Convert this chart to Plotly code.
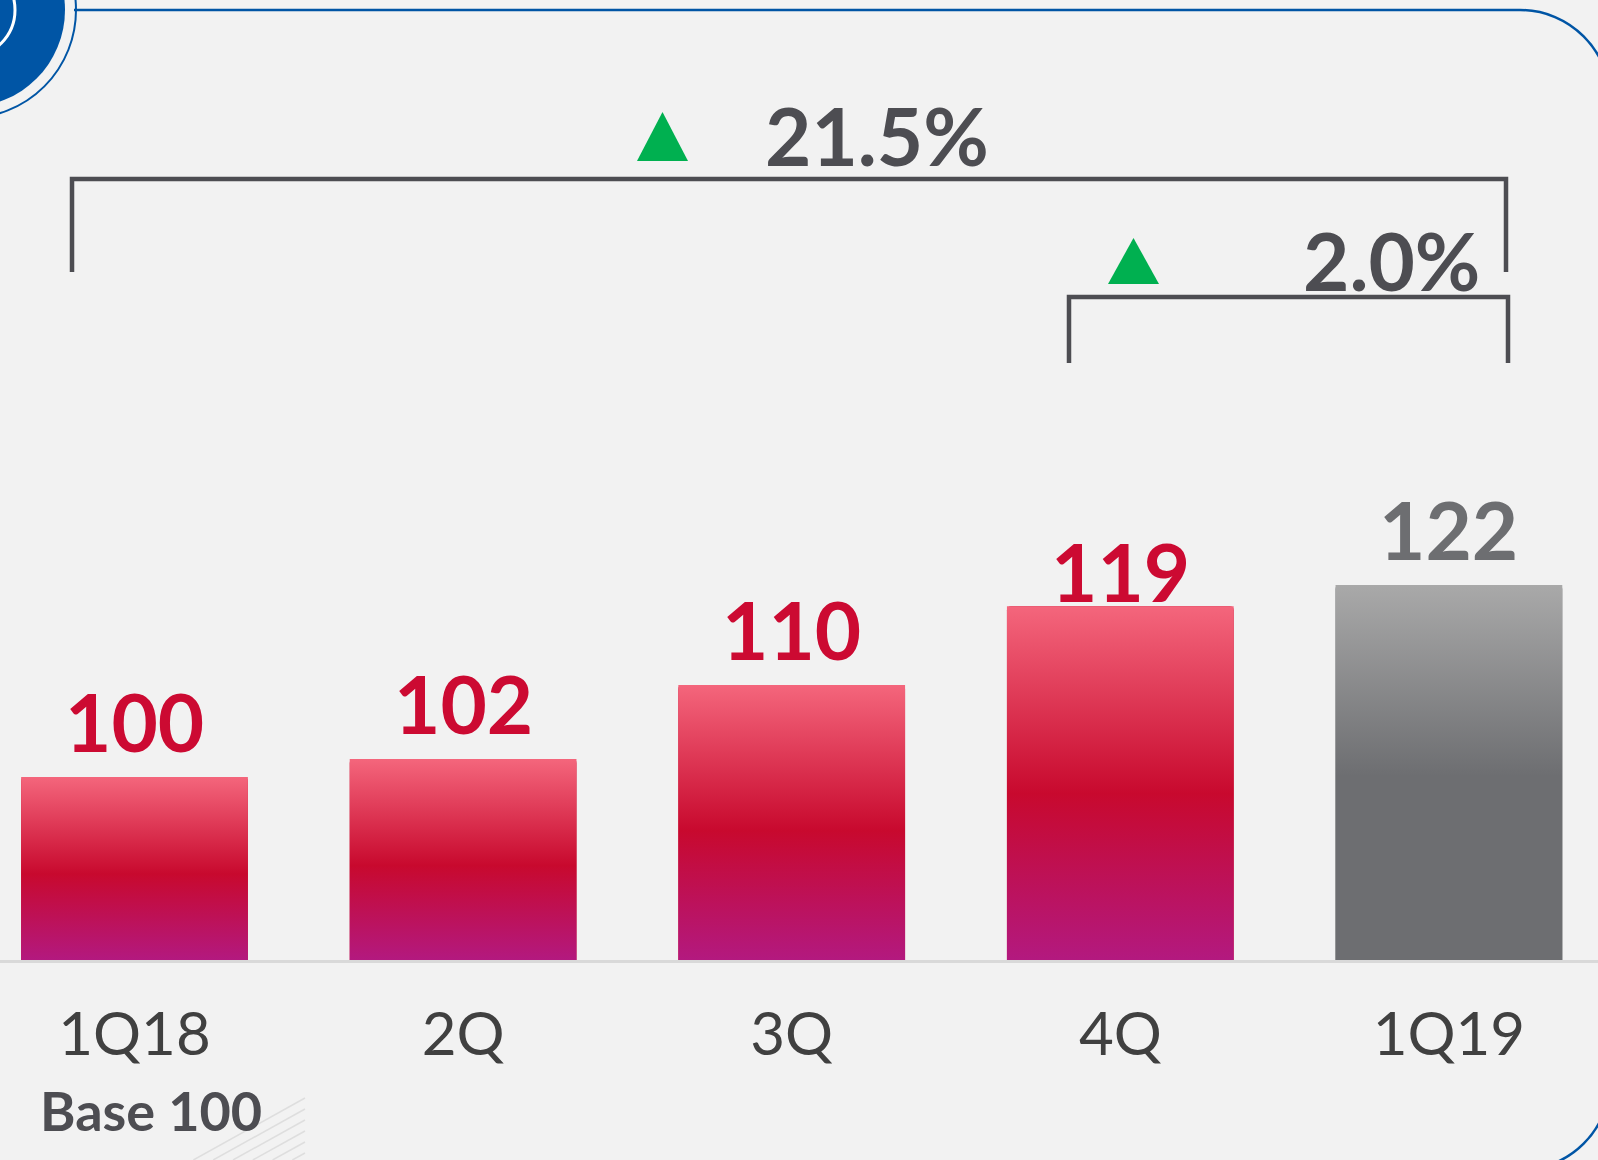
import plotly.graph_objects as go

# ---- data ----
categories = ["1Q18", "2Q", "3Q", "4Q", "1Q19"]
index_values = [100, 102, 110.3, 119.1, 121.5]
value_labels = ["100", "102", "110", "119", "122"]
growth_total = "21.5%"
growth_quarter = "2.0%"
footnote = "Base 100"

# ---- layout constants ----
W, H = 1598, 1160
PLOT_BOTTOM = 960
Y0, Y1 = 79.5, 187.0
X0, X1 = -0.4093, 4.4537
BAR_W = 0.69

BG = "#f2f2f2"
DARK = "#4d4d52"
RED = "#cc0a32"
GREY_LABEL = "#6d6e71"
BLUE = "#0055a5"
GREEN = "#00b050"


def P(x, y):
    """pixel -> paper coordinates"""
    return x / W, (PLOT_BOTTOM - y) / PLOT_BOTTOM


fig = go.Figure()

n = len(categories)
xs = list(range(n))
bar_colors = ["#c8092e"] * (n - 1) + ["#6d6e71"]
fig.add_trace(go.Bar(
    x=xs, y=index_values, width=BAR_W,
    marker=dict(color=bar_colors, line=dict(width=0), cornerradius=4),
    hoverinfo="skip", showlegend=False,
))

red_scale = [[0, "#b3197f"], [0.47, "#c8092e"], [1, "#f4667c"]]
grey_scale = [[0, "#6d6e71"], [0.49, "#6d6e71"], [1, "#a9a9a9"]]
for i, v in enumerate(index_values):
    scale = grey_scale if i == n - 1 else red_scale
    fig.add_trace(go.Scatter(
        x=[i - BAR_W / 2, i + BAR_W / 2, i + BAR_W / 2, i - BAR_W / 2, i - BAR_W / 2],
        y=[Y0, Y0, v, v, Y0],
        mode="lines", line=dict(width=0), fill="toself",
        fillgradient=dict(type="vertical", colorscale=scale, start=Y0, stop=v),
        hoverinfo="skip", showlegend=False,
    ))

annotations = []
label_shift = [6, 6, 6, -15, 6]
for i, (v, t) in enumerate(zip(index_values, value_labels)):
    annotations.append(dict(
        x=i, y=v, xref="x", yref="y", text=f"<b>{t}</b>", showarrow=False,
        xanchor="center", yanchor="bottom", yshift=label_shift[i],
        font=dict(family="Lato", size=80, color=GREY_LABEL if i == n - 1 else RED),
    ))

# growth texts
gx, gy = P(877, 135)
annotations.append(dict(x=gx, y=gy, xref="paper", yref="paper", text=f"<b>{growth_total}</b>",
                        showarrow=False, xanchor="center", yanchor="middle",
                        font=dict(family="Lato", size=80, color=DARK)))
gx, gy = P(1391, 260)
annotations.append(dict(x=gx, y=gy, xref="paper", yref="paper", text=f"<b>{growth_quarter}</b>",
                        showarrow=False, xanchor="center", yanchor="middle",
                        font=dict(family="Lato", size=80, color=DARK)))
bx, by = P(38, 1110)
annotations.append(dict(x=bx, y=by, xref="paper", yref="paper", text=f"<b>{footnote}</b>",
                        showarrow=False, xanchor="left", yanchor="middle",
                        font=dict(family="Lato", size=54, color=DARK)))

shapes = []


def line_px(xa, ya, xb, yb, color, width):
    a = P(xa, ya)
    b = P(xb, yb)
    shapes.append(dict(type="line", xref="paper", yref="paper", x0=a[0], y0=a[1], x1=b[0], y1=b[1],
                       line=dict(color=color, width=width)))


def path_px(points, close=True, **kw):
    pts = [P(x, y) for x, y in points]
    d = "M " + " L ".join(f"{x:.5f},{y:.5f}" for x, y in pts) + (" Z" if close else "")
    shapes.append(dict(type="path", xref="paper", yref="paper", path=d, **kw))


# brackets
path_px([(72, 272), (72, 179), (1506, 179), (1506, 272)], close=False,
        line=dict(color=DARK, width=4.5))
path_px([(1069, 363), (1069, 297), (1508, 297), (1508, 363)], close=False,
        line=dict(color=DARK, width=4.5))

# green triangles
path_px([(637, 161), (662.5, 112), (688, 161)], fillcolor=GREEN, line=dict(width=0))
path_px([(1108, 284), (1133.5, 238), (1159, 284)], fillcolor=GREEN, line=dict(width=0))


# decorative blue circle top-left
def circle_px(cx, cy, r, **kw):
    a = P(cx - r, cy + r)
    b = P(cx + r, cy - r)
    shapes.append(dict(type="circle", xref="paper", yref="paper", x0=a[0], y0=a[1], x1=b[0], y1=b[1], **kw))


circle_px(-32, 10, 108, line=dict(color=BLUE, width=2), fillcolor="rgba(0,0,0,0)")
circle_px(-32, 10, 97, line=dict(width=0), fillcolor=BLUE)
circle_px(-32, 10, 47, line=dict(color="white", width=3), fillcolor="rgba(0,0,0,0)")

# rounded frame top/right
k = 0.5523
R = 90


def fmt(x, y):
    a = P(x, y)
    return f"{a[0]:.5f},{a[1]:.5f}"


frame = (f"M {fmt(74, 10)} L {fmt(1520, 10)} "
         f"C {fmt(1520 + R * k, 10)} {fmt(1610, 100 - R * k)} {fmt(1610, 100)} "
         f"L {fmt(1610, 1080)} "
         f"C {fmt(1610, 1080 + R * k)} {fmt(1520 + R * k, 1170)} {fmt(1520, 1170)}")
shapes.append(dict(type="path", xref="paper", yref="paper", path=frame,
                   line=dict(color=BLUE, width=2.5)))

# faint hatch lines near footnote
for j in range(6):
    yr = 1098 + 11 * j
    line_px(305, yr, 305 - (1160 - yr) * 1.8, 1160, "#dedede", 1.5)

fig.update_layout(
    width=W, height=H,
    margin=dict(l=0, r=0, t=0, b=H - PLOT_BOTTOM),
    paper_bgcolor=BG, plot_bgcolor=BG,
    showlegend=False,
    xaxis=dict(range=[X0, X1], tickvals=xs, ticktext=categories, showgrid=False, zeroline=False,
               showline=True, linecolor="#d9d9d9", linewidth=3, ticks="", ticklabelstandoff=20,
               tickfont=dict(family="Lato", size=60, color="#404040", weight=400), fixedrange=True),
    yaxis=dict(range=[Y0, Y1], visible=False, fixedrange=True),
    annotations=annotations,
    shapes=shapes,
)

fig.write_html("out.html")
